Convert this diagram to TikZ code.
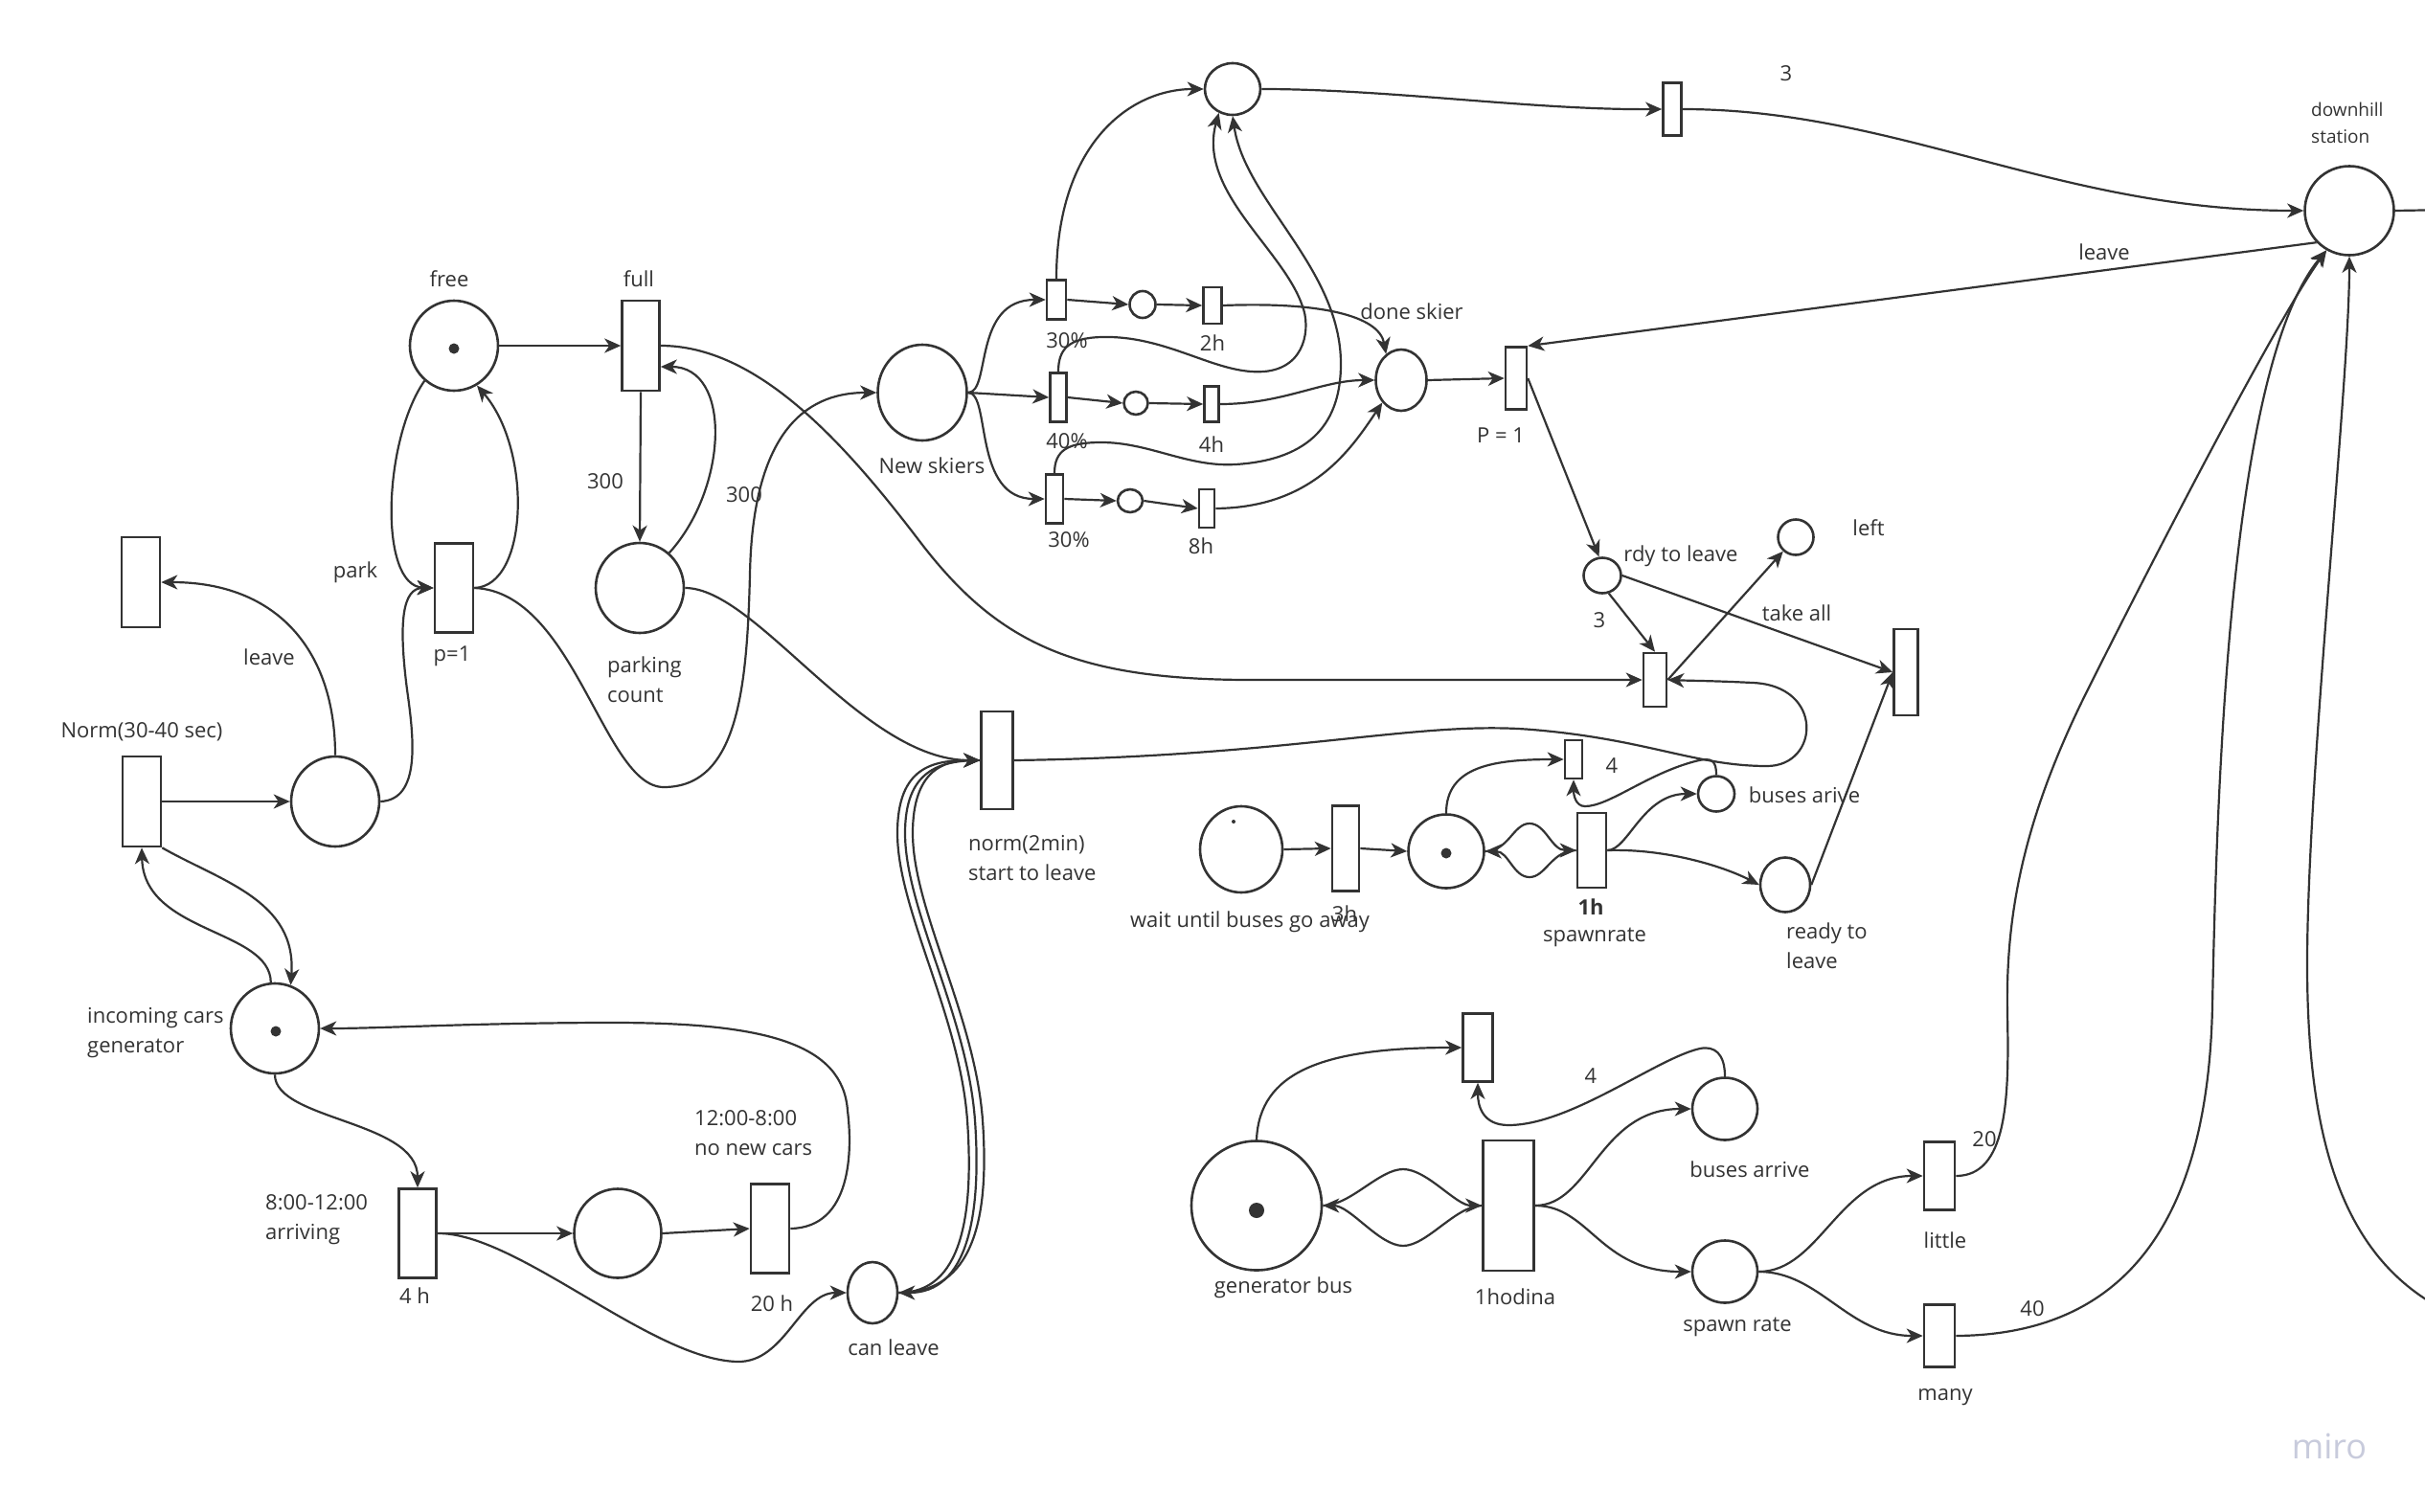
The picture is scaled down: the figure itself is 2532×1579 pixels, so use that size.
\documentclass[tikz,border=0pt]{standalone}
\usepackage{fontspec}
\setmainfont{Open Sans}
\usetikzlibrary{arrows.meta,shapes.geometric,calc}
\definecolor{ink}{HTML}{333333}
\definecolor{wmark}{HTML}{C8CBDC}
\begin{document}
\begin{tikzpicture}[x=1pt,y=-1pt,
  every node/.style={font=\fontsize{22}{31}\selectfont, text=ink, inner sep=0pt},
  sz/.style 2 args={minimum width=#1pt, minimum height=#2pt},
  plc/.style={ellipse, draw=ink, line width=2.6pt, fill=white, inner sep=0pt},
  trn/.style={rectangle, draw=ink, line width=2.6pt, fill=white, inner sep=0pt},
  flow/.style={draw=ink, line width=2.2pt, -{Stealth[length=17pt,width=15pt,inset=5pt]}},
  plain/.style={draw=ink, line width=2.2pt},
  tokdot/.style={circle, fill=ink, inner sep=0pt, minimum size=#1},
  tokdot/.default=11pt,
  smalltxt/.style={font=\fontsize{19}{28}\selectfont},
]
\fill[white] (0,0) rectangle (2532,1579);
\useasboundingbox (0,0) rectangle (2532,1579);

% ---------- parking ----------
\node[plc, sz={92}{94}] (free) at (474,361) {};
\node[tokdot] at (474,364) {};
\node[trn, sz={39}{94}] (full) at (669,361) {};
\node[trn, sz={40}{93}] (park) at (474,614) {};
\node[plc, sz={92}{94}] (pc) at (668,614) {};
\node[trn, sz={40}{94}] (leavet) at (147,608) {};
\node[trn, sz={40}{94}] (norm) at (148,837) {};
\node[plc, sz={92}{94}] (carc) at (350,837) {};
\node[plc, sz={92}{94}] (gen) at (287,1074) {};
\node[tokdot] at (288,1077) {};
\node[trn, sz={39}{93}] (t4h) at (436,1288) {};
\node[plc, sz={91}{93}] (mid) at (645,1288) {};
\node[trn, sz={40}{93}] (t20h) at (804,1283) {};
\node[plc, sz={52}{64}] (canleave) at (911,1350) {};
\node[trn, sz={33}{102}] (startl) at (1041,794) {};

% ---------- skiers ----------
\node[plc, sz={93}{100}] (newski) at (963,410) {};
\node[plc, sz={58}{54}] (topc) at (1287,93) {};
\node[trn, sz={20}{41}] (t30a) at (1103,313) {};
\node[plc, sz={27}{28}] (s1) at (1193,318) {};
\node[trn, sz={19}{38}] (t2h) at (1266,319) {};
\node[trn, sz={17}{51}] (t40) at (1105,415) {};
\node[plc, sz={25}{24}] (s2) at (1186,421) {};
\node[trn, sz={15}{37}] (t4hb) at (1265,422) {};
\node[trn, sz={18}{51}] (t30b) at (1101,521) {};
\node[plc, sz={26}{24}] (s3) at (1180,523) {};
\node[trn, sz={16}{40}] (t8h) at (1260,531) {};
\node[plc, sz={53}{64}] (done) at (1463,397) {};
\node[trn, sz={22}{65}] (p1) at (1583,395) {};
\node[trn, sz={19}{55}] (t3top) at (1746,114) {};
\node[plc, sz={93}{93}] (station) at (2453,220) {};
\coordinate (eastout) at (2560,219);
\coordinate (southout) at (2560,1372);

% ---------- departures ----------
\node[plc, sz={39}{37}] (rdy) at (1673,601) {};
\node[plc, sz={37}{37}] (leftp) at (1875,561) {};
\node[trn, sz={24}{56}] (t3) at (1728,710) {};
\node[trn, sz={25}{90}] (takeall) at (1990,702) {};
\node[trn, sz={18}{40}] (t4s) at (1643,793) {};
\node[plc, sz={38}{37}] (busarive) at (1792,829) {};
\node[plc, sz={86}{90}] (wait) at (1296,887) {};
\node[tokdot=4pt] at (1288,858) {};
\node[trn, sz={28}{89}] (t3h) at (1405,886) {};
\node[plc, sz={79}{77}] (busy) at (1510,889) {};
\node[tokdot] at (1510,891) {};
\node[trn, sz={30}{78}] (spawnrate) at (1662,888) {};
\node[plc, sz={52}{57}] (rtl) at (1864,924) {};

% ---------- bus generator ----------
\node[plc, sz={136}{135}] (genbus) at (1312,1259) {};
\node[tokdot=16pt] at (1312,1264) {};
\node[trn, sz={31}{71}] (tbus) at (1543,1094) {};
\node[trn, sz={53}{136}] (hodina) at (1575,1259) {};
\node[plc, sz={68}{65}] (busarr) at (1801,1158) {};
\node[plc, sz={68}{65}] (spawn) at (1801,1328) {};
\node[trn, sz={32}{71}] (little) at (2025,1228) {};
\node[trn, sz={32}{65}] (many) at (2025,1395) {};

% ---------- arcs: parking ----------
\draw[flow] (free.east) -- (full.west);
\draw[flow] (full.south) -- (pc.north);
\draw[flow] (pc.50) .. controls (760,510) and (765,383) .. ($(full.east)+(0,22)$);
\draw[flow] (park.east) .. controls (552,612) and (556,470) .. (free.-60);
\draw[flow] (free.-130) .. controls (400,460) and (395,612) .. (park.west);
\draw[flow] (carc.east) .. controls (440,835) and (432,770) .. (425,720) .. controls (416,650) and (420,614) .. (park.west);
\draw[flow] (park.east) .. controls (600,618) and (630,822) .. (693,822) .. controls (770,822) and (780,720) .. (783,600) .. controls (786,440) and (850,410) .. (newski.west);
\draw[flow] (pc.east) .. controls (790,614) and (900,794) .. (startl.west);
\draw[flow] (full.east) .. controls (790,361) and (880,460) .. (960,565) .. controls (1040,670) and (1120,709) .. (1300,710) -- (t3.west);
\draw[flow] (carc.north) .. controls (350,680) and (290,608) .. (leavet.east);
\draw[flow] (norm.east) -- (carc.west);
\draw[flow] (gen.95) .. controls (282,970) and (150,975) .. (norm.south);
\draw[flow] (norm.south east) .. controls (230,920) and (310,940) .. (gen.70);
\draw[flow] (gen.south) .. controls (287,1170) and (436,1170) .. (t4h.north);
\draw[flow] (t4h.east) -- (mid.west);
\draw[flow] (mid.east) -- (t20h.west);
\draw[flow] (t20h.east) .. controls (890,1282) and (890,1200) .. (885,1160) .. controls (880,1090) and (800,1068) .. (640,1068) .. controls (500,1068) and (400,1074) .. (gen.east);
\draw[flow] (t4h.east) .. controls (540,1287) and (680,1420) .. (770,1422) .. controls (820,1423) and (835,1350) .. (canleave.west);
\draw[flow] (startl.west) .. controls (980,794) and (945,805) .. (945,870) .. controls (945,950) and (1010,1060) .. (1018,1170) .. controls (1025,1270) and (1010,1350) .. (canleave.east);
\draw[flow] (canleave.east) .. controls (1018,1350) and (1033,1270) .. (1026,1170) .. controls (1018,1060) and (953,950) .. (953,870) .. controls (953,805) and (985,794) .. (startl.west);
\draw[flow] (canleave.east) .. controls (1004,1350) and (1017,1270) .. (1010,1170) .. controls (1002,1060) and (937,950) .. (937,870) .. controls (937,800) and (975,794) .. (startl.west);

% ---------- arcs: skiers ----------
\draw[flow] (newski.east) .. controls (1035,410) and (1015,313) .. (t30a.west);
\draw[flow] (newski.east) -- (t40.west);
\draw[flow] (newski.east) .. controls (1035,410) and (1015,521) .. (t30b.west);
\draw[flow] (t30a.east) -- (s1.west);
\draw[flow] (s1.east) -- (t2h.west);
\draw[flow] (t40.east) -- (s2.west);
\draw[flow] (s2.east) -- (t4hb.west);
\draw[flow] (t30b.east) -- (s3.west);
\draw[flow] (s3.east) -- (t8h.west);
\draw[flow] (t2h.east) .. controls (1380,315) and (1440,330) .. (done.120);
\draw[flow] (t4hb.east) .. controls (1340,422) and (1380,397) .. (done.west);
\draw[flow] (t8h.east) .. controls (1370,530) and (1410,470) .. (done.230);
\draw[flow] (t30a.north) .. controls (1103,150) and (1180,93) .. (topc.west);
\draw[flow] (t40.north) .. controls (1105,365) and (1115,353) .. (1150,352) .. controls (1220,350) and (1270,392) .. (1320,388) .. controls (1365,384) and (1368,340) .. (1360,320) .. controls (1340,260) and (1250,200) .. (topc.240);
\draw[flow] (t30b.north) .. controls (1101,470) and (1115,462) .. (1150,462) .. controls (1200,462) and (1240,488) .. (1290,485) .. controls (1370,480) and (1400,440) .. (1400,380) .. controls (1400,280) and (1300,210) .. (topc.south);
\draw[flow] (done.east) -- (p1.west);
\draw[flow] (topc.east) .. controls (1450,93) and (1600,115) .. (t3top.west);
\draw[flow] (t3top.east) .. controls (1980,114) and (2150,220) .. (station.west);
\draw[flow] (station.224) -- (p1.north east);
\draw[plain] (station.east) -- (eastout);
\draw[flow] (southout) .. controls (2450,1320) and (2408,1200) .. (2409,1000) .. controls (2410,800) and (2453,400) .. (station.south);
\draw[flow] (little.east) .. controls (2095,1228) and (2098,1150) .. (2096,1060) .. controls (2094,960) and (2110,860) .. (2180,720) .. controls (2260,560) and (2380,330) .. (station.240);
\draw[flow] (many.east) .. controls (2200,1394) and (2305,1300) .. (2310,1050) .. controls (2315,800) and (2330,380) .. (station.240);

% ---------- arcs: departures ----------
\draw[flow] (p1.east) -- (rdy.100);
\draw[flow] (rdy.-70) -- (t3.north);
\draw[flow] (rdy.east) -- (takeall.west);
\draw[flow] (rtl.east) -- (takeall.west);
\draw[flow] (t3.east) -- (leftp);
\draw[flow] (startl.east) .. controls (1350,790) and (1480,752) .. (1600,762) .. controls (1720,772) and (1770,800) .. (1845,800) .. controls (1900,800) and (1905,716) .. (1830,713) .. controls (1790,711) and (1770,711) .. (t3.east);
\draw[flow] (wait.east) -- (t3h.west);
\draw[flow] (t3h.east) -- (busy.west);
\draw[flow] (busy.east) .. controls (1575,889) and (1580,860) .. (1597,860) .. controls (1614,860) and (1620,888) .. (spawnrate.west);
\draw[flow] (spawnrate.west) .. controls (1620,888) and (1614,916) .. (1597,916) .. controls (1580,916) and (1575,889) .. (busy.east);
\draw[flow] (busy.north) .. controls (1510,800) and (1560,793) .. (t4s.west);
\draw[flow] (busarive.north) .. controls (1792,795) and (1788,790) .. (1770,795) .. controls (1720,808) and (1680,842) .. (1655,842) .. controls (1645,842) and (1643,830) .. (t4s.south);
\draw[flow] (spawnrate.east) .. controls (1700,888) and (1715,829) .. (busarive.west);
\draw[flow] (spawnrate.east) .. controls (1740,886) and (1800,905) .. (rtl.west);

% ---------- arcs: bus generator ----------
\draw[flow] (genbus.north) .. controls (1315,1120) and (1380,1094) .. (tbus.west);
\draw[flow] (busarr.north) .. controls (1801,1100) and (1790,1092) .. (1775,1095) .. controls (1730,1105) and (1640,1175) .. (1575,1175) .. controls (1548,1175) and (1543,1155) .. (tbus.south);
\draw[flow] (genbus.east) .. controls (1410,1259) and (1440,1221) .. (1465,1221) .. controls (1490,1221) and (1520,1259) .. (hodina.west);
\draw[flow] (hodina.west) .. controls (1520,1259) and (1490,1301) .. (1465,1301) .. controls (1440,1301) and (1410,1259) .. (genbus.east);
\draw[flow] (hodina.east) .. controls (1660,1259) and (1670,1158) .. (busarr.west);
\draw[flow] (hodina.east) .. controls (1660,1259) and (1670,1328) .. (spawn.west);
\draw[flow] (spawn.east) .. controls (1900,1328) and (1920,1228) .. (little.west);
\draw[flow] (spawn.east) .. controls (1900,1328) and (1930,1395) .. (many.west);

% ---------- labels ----------
\node at (469,291) {free};
\node at (667,291) {full};
\node at (632,503) {300};
\node at (777,517) {300};
\node at (371,598) {park};
\node at (472,685) {p=1};
\node[anchor=west, align=left] at (634,710) {parking\\count};
\node at (281,686) {leave};
\node at (148,764) {Norm(30-40 sec)};
\node[anchor=west, align=left] at (91,1079) {incoming cars\\generator};
\node[anchor=west, align=left] at (277,1274) {8:00-12:00\\arriving};
\node at (433,1353) {4 h};
\node[anchor=west, align=left] at (725,1183) {12:00-8:00\\no new cars};
\node at (806,1361) {20 h};
\node at (933,1407) {can leave};
\node[anchor=west, align=left] at (1011,896) {norm(2min)\\start to leave};
\node at (973,486) {New skiers};
\node at (1114,356) {30\%};
\node at (1266,358) {2h};
\node at (1114,461) {40\%};
\node at (1265,464) {4h};
\node at (1116,564) {30\%};
\node at (1254,570) {8h};
\node at (1474,325) {done skier};
\node at (1567,455) {P = 1};
\node at (1865,77) {3};
\node[smalltxt, anchor=west, align=left] at (2413,128) {downhill\\station};
\node at (2197,263) {leave};
\node at (1755,581) {rdy to leave};
\node at (1951,551) {left};
\node at (1876,640) {take all};
\node at (1670,648) {3};
\node at (1683,800) {4};
\node at (1884,830) {buses arive};
\node at (1305,963) {wait until buses go away};
\node at (1404,954) {3h};
\node[font=\fontsize{22}{31}\selectfont\bfseries] at (1661,947) {1h};
\node at (1665,979) {spawnrate};
\node[anchor=west, align=left] at (1865,988) {ready to\\leave};
\node at (1661,1124) {4};
\node at (1827,1221) {buses arrive};
\node at (1340,1345) {generator bus};
\node at (1582,1354) {1hodina};
\node at (1814,1386) {spawn rate};
\node at (2031,1295) {little};
\node at (2072,1190) {20};
\node at (2031,1459) {many};
\node at (2122,1367) {40};
\node[text=wmark, font=\fontsize{36}{40}\selectfont] at (2432,1510) {miro};
\end{tikzpicture}
\end{document}
